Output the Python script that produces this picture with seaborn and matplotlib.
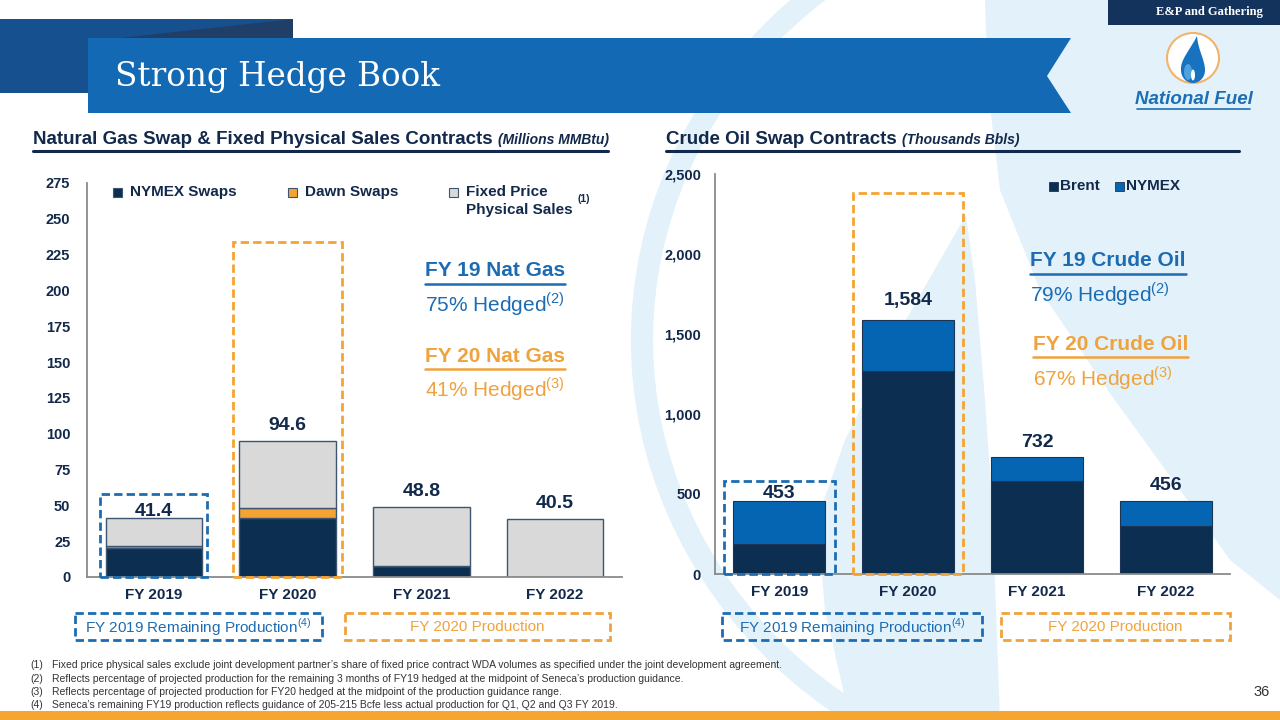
import matplotlib
matplotlib.use("Agg")
import matplotlib.pyplot as plt
import seaborn as sns
import numpy as np
from matplotlib.patches import Rectangle, Polygon, Ellipse, Arc, PathPatch
from matplotlib.path import Path
from matplotlib.ticker import FuncFormatter, FixedLocator

# ---------------- data ----------------
years = ["FY 2019", "FY 2020", "FY 2021", "FY 2022"]
gas_nymex = [20.0, 41.3, 7.5, 0.0]
gas_dawn = [1.5, 6.7, 0.0, 0.0]
gas_fixed = [19.9, 46.6, 41.3, 40.5]
gas_totals = [41.4, 94.6, 48.8, 40.5]
gas_ticks = [0, 25, 50, 75, 100, 125, 150, 175, 200, 225, 250, 275]

oil_brent = [185, 1265, 579, 300]
oil_nymex = [268, 319, 153, 156]
oil_totals = [453, 1584, 732, 456]
oil_ticks = [0, 500, 1000, 1500, 2000, 2500]

gas_legend = ["NYMEX Swaps", "Dawn Swaps", "Fixed Price\nPhysical Sales"]
oil_legend = ["Brent", "NYMEX"]
gas_notes = ["FY 19 Nat Gas", "75% Hedged", "(2)", "FY 20 Nat Gas", "41% Hedged", "(3)"]
oil_notes = ["FY 19 Crude Oil", "79% Hedged", "(2)", "FY 20 Crude Oil", "67% Hedged", "(3)"]
footnotes = [
    "Fixed price physical sales exclude joint development partner\u2019s share of fixed price contract WDA volumes as specified under the joint development agreement.",
    "Reflects percentage of projected production for the remaining 3 months of FY19 hedged at the midpoint of Seneca\u2019s production guidance.",
    "Reflects percentage of projected production for FY20 hedged at the midpoint of the production guidance range.",
    "Seneca\u2019s remaining FY19 production reflects guidance of 205-215 Bcfe less actual production for Q1, Q2 and Q3 FY 2019.",
]

# ---------------- style ----------------
NAVY = "#0c2e50"
TXT = "#13294b"
ORANGE = "#f5a332"
GRAY = "#d9d9d9"
OILBLUE = "#0565b2"
BLUE = "#1d6cb3"
OTXT = "#f0a23c"
EDGE = "#3d5570"
LB = "#e3f2fa"
AX = "#8a8a8a"

sns.set_theme(style="white")
plt.rcParams["font.family"] = ["Liberation Sans", "DejaVu Sans"]
plt.rcParams["mathtext.fontset"] = "custom"
plt.rcParams["mathtext.rm"] = "Liberation Sans"
plt.rcParams["mathtext.bf"] = "Liberation Sans:bold"

W, H = 1280, 720
fig = plt.figure(figsize=(12.8, 7.2), dpi=100)
fig.patch.set_facecolor("white")

bg = fig.add_axes([0, 0, 1, 1], zorder=0)
bg.set_xlim(0, W)
bg.set_ylim(H, 0)
bg.axis("off")

# background watermark swooshes
bg.add_patch(Arc((1122, 340), 960, 900, theta1=90, theta2=270, lw=16, color=LB, zorder=0))
bg.add_patch(Polygon([(985, 0), (1280, 0), (1280, 600), (1230, 560), (1191, 505), (1109, 392),
                      (1040, 290), (1000, 190), (988, 90)], closed=True, color=LB, lw=0, zorder=0))
bg.add_patch(Polygon([(966, 215), (900, 330), (845, 440), (817, 520), (825, 610), (850, 720),
                      (1000, 720), (992, 500), (985, 400), (975, 280)], closed=True, color=LB,
                     lw=0, zorder=0))

# header
bg.add_patch(Rectangle((0, 19), 293, 74, color="#17508f", lw=0, zorder=1))
bg.add_patch(Polygon([(120, 38), (293, 19), (293, 38)], closed=True, color="#1f3f68", lw=0, zorder=1))
bg.add_patch(Polygon([(88, 38), (1071, 38), (1047, 76), (1071, 113), (88, 113)], closed=True,
                     color="#1469b4", lw=0, zorder=2))
bg.text(115, 77, "Strong Hedge Book", color="white", fontsize=23.5, family="DejaVu Serif",
        va="center", ha="left", zorder=3)
bg.add_patch(Rectangle((1108, 0), 172, 25, color="#13335c", lw=0, zorder=2))
bg.text(1209, 12.5, "E&P and Gathering", color="white", fontsize=9, fontweight="bold",
        family="Liberation Serif", ha="center", va="center", zorder=3)

# logo
bg.add_patch(Ellipse((1193, 58), 52, 50, facecolor="white", edgecolor="#f2b36a", lw=1.5, zorder=3))
drop = Path([(1197, 36), (1190, 50), (1180, 60), (1181, 70), (1181, 78), (1187, 83), (1193, 83),
             (1200, 83), (1205, 77), (1205, 70), (1205, 60), (1198, 50), (1197, 36)],
            [Path.MOVETO] + [Path.CURVE4] * 12)
bg.add_patch(PathPatch(drop, facecolor="#1772c0", edgecolor="none", zorder=4))
bg.add_patch(Ellipse((1188, 72), 8, 16, facecolor="#4fa3dc", edgecolor="none", zorder=4))
bg.add_patch(Ellipse((1193, 75), 4, 11, facecolor="white", edgecolor="none", zorder=5))
bg.text(1194, 100, "National Fuel", color="#1a6fb5", fontsize=13.5, fontweight="bold",
        style="italic", ha="center", va="center", zorder=4)
bg.plot([1137, 1250], [108.5, 108.5], color="#1a6fb5", lw=1.2, zorder=4)

# section headers
r = fig.canvas.get_renderer()


def header(x, y, main, sub, x_end):
    t = bg.text(x, y, main, color=TXT, fontsize=13.5, fontweight="bold", va="center", ha="left", zorder=4)
    bb = t.get_window_extent(renderer=r)
    bg.text(bb.x1 + 5, y + 1, sub, color=TXT, fontsize=10, fontweight="bold", style="italic",
            va="center", ha="left", zorder=4)
    bg.plot([x, x_end], [151, 151], color=TXT, lw=2.2, zorder=4)


header(33, 139, "Natural Gas Swap & Fixed Physical Sales Contracts", "(Millions MMBtu)", 608)
header(666, 139, "Crude Oil Swap Contracts", "(Thousands Bbls)", 1239)


def style_axis(ax, ypad):
    ax.patch.set_alpha(0)
    for s in ["top", "right"]:
        ax.spines[s].set_visible(False)
    for s in ["left", "bottom"]:
        ax.spines[s].set_color(AX)
        ax.spines[s].set_linewidth(1.3)
    ax.set_xlim(-0.5, 3.5)
    ax.set_xlabel("")
    ax.set_ylabel("")
    ax.tick_params(axis="y", length=4, width=1, color=AX, pad=ypad, labelsize=10.5, labelcolor=TXT)
    ax.tick_params(axis="x", which="major", length=0, pad=8, labelsize=11, labelcolor=TXT)
    ax.xaxis.set_minor_locator(FixedLocator([-0.5, 0.5, 1.5, 2.5, 3.5]))
    ax.tick_params(axis="x", which="minor", length=5, width=1, color=AX, direction="out")
    for lab in ax.get_xticklabels() + ax.get_yticklabels():
        lab.set_fontweight("bold")


# ---------------- left chart ----------------
axL = fig.add_axes([87 / W, 1 - 577 / H, 535 / W, 394 / H], zorder=2)
bw = 0.72
sns.barplot(x=years, y=gas_nymex, color=NAVY, saturation=1, width=bw, errorbar=None,
            edgecolor=EDGE, linewidth=1, ax=axL)
sns.barplot(x=years, y=gas_dawn, bottom=gas_nymex, color=ORANGE, saturation=1, width=bw,
            errorbar=None, edgecolor=EDGE, linewidth=1, ax=axL)
sns.barplot(x=years, y=gas_fixed, bottom=np.add(gas_nymex, gas_dawn), color=GRAY, saturation=1,
            width=bw, errorbar=None, edgecolor=EDGE, linewidth=1, ax=axL)
axL.set_ylim(0, 275)
axL.set_yticks(gas_ticks)
style_axis(axL, 8)
gas_off = [4.5, 11.5, 11.5, 11.5]
for i, v in enumerate(gas_totals):
    axL.annotate(f"{v:.1f}", (i, v), xytext=(0, gas_off[i]), textcoords="offset points",
                 ha="center", va="center", fontsize=14, fontweight="bold", color=TXT)
axL.add_patch(Rectangle((-0.40, 0), 0.80, 58, fill=False, edgecolor=BLUE, lw=2,
                        ls=(0, (3, 1.5)), clip_on=False, zorder=5))
axL.add_patch(Rectangle((1 - 0.41, 0), 0.82, 234, fill=False, edgecolor=ORANGE, lw=2,
                        ls=(0, (3, 1.5)), clip_on=False, zorder=5))

# left legend
leg_x = [113, 288, 449]
leg_c = [NAVY, ORANGE, GRAY]
for x, c, lab in zip(leg_x, leg_c, gas_legend):
    bg.add_patch(Rectangle((x, 187.5), 9, 9, facecolor=c, edgecolor=EDGE, lw=0.8, zorder=4))
    for k, line in enumerate(lab.split("\n")):
        bg.text(x + 17, 192 + 18 * k, line, color=TXT, fontsize=11, fontweight="bold",
                va="center", ha="left", zorder=4)
bg.text(578, 199, "(1)", color=TXT, fontsize=7.5, fontweight="bold", va="center", ha="left", zorder=4)

# ---------------- right chart ----------------
axR = fig.add_axes([715 / W, 1 - 574 / H, 515 / W, 400.4 / H], zorder=2)
sns.barplot(x=years, y=oil_brent, color=NAVY, saturation=1, width=0.715, errorbar=None,
            edgecolor="#1d3554", linewidth=0.8, ax=axR)
sns.barplot(x=years, y=oil_nymex, bottom=oil_brent, color=OILBLUE, saturation=1, width=0.715,
            errorbar=None, edgecolor="#1d3554", linewidth=0.8, ax=axR)
axR.set_ylim(0, 2500)
axR.set_yticks(oil_ticks)
axR.yaxis.set_major_formatter(FuncFormatter(lambda v, p: f"{int(v):,}"))
style_axis(axR, 6)
oil_off = [6, 14.5, 10, 11]
for i, v in enumerate(oil_totals):
    axR.annotate(f"{v:,}", (i, v), xytext=(0, oil_off[i]), textcoords="offset points",
                 ha="center", va="center", fontsize=14, fontweight="bold", color=TXT)
axR.add_patch(Rectangle((-0.43, 0), 0.86, 583, fill=False, edgecolor=BLUE, lw=2,
                        ls=(0, (3, 1.5)), clip_on=False, zorder=5))
axR.add_patch(Rectangle((1 - 0.43, 0), 0.86, 2380, fill=False, edgecolor=ORANGE, lw=2,
                        ls=(0, (3, 1.5)), clip_on=False, zorder=5))

for x, c, lab in zip([1049, 1115], [NAVY, OILBLUE], oil_legend):
    bg.add_patch(Rectangle((x, 182), 9, 9, facecolor=c, edgecolor="#1d3554", lw=0.6, zorder=4))
    bg.text(x + 11, 186.5, lab, color=TXT, fontsize=11, fontweight="bold", va="center",
            ha="left", zorder=4)


# ---------------- hedge notes ----------------
def note(x, ys, texts, color):
    t = bg.text(x, ys[0], texts[0], color=color, fontsize=15, fontweight="bold", va="center",
                ha="left", zorder=4)
    bb = t.get_window_extent(renderer=r)
    bg.plot([x, x + bb.width], [ys[1], ys[1]], color=color, lw=1.8, zorder=4)
    bg.text(x, ys[2], texts[1] + r"$^{\mathrm{" + texts[2] + "}}$", color=color, fontsize=15,
            va="center", ha="left", zorder=4)


note(425, [271, 284, 304], gas_notes[:3], BLUE)
note(425, [357, 369, 389], gas_notes[3:], OTXT)
note(1030, [261, 273.5, 294], oil_notes[:3], BLUE)
note(1033, [344, 356.5, 378], oil_notes[3:], OTXT)


# ---------------- production boxes ----------------
def pbox(x0, x1, text, color):
    bg.add_patch(Rectangle((x0, 613), x1 - x0, 27, fill=False, edgecolor=color, lw=2,
                           ls=(0, (3, 1.5)), zorder=4))
    bg.text((x0 + x1) / 2, 627, text, color=color, fontsize=11, ha="center", va="center", zorder=4)


pbox(75, 322, r"FY 2019 Remaining Production$^{\mathrm{(4)}}$", BLUE)
pbox(345, 610, "FY 2020 Production", OTXT)
pbox(722, 982, r"FY 2019 Remaining Production$^{\mathrm{(4)}}$", BLUE)
pbox(1001, 1230, "FY 2020 Production", OTXT)

# ---------------- footnotes ----------------
for k, fn in enumerate(footnotes):
    y = 665 + 13.5 * k
    bg.text(30, y, f"({k + 1})", fontsize=7.5, color="#333333", va="center", ha="left", zorder=4)
    bg.text(52, y, fn, fontsize=7.5, color="#333333", va="center", ha="left", zorder=4)
bg.text(1262, 692, "36", fontsize=10.5, color="#333333", va="center", ha="center", zorder=4)
bg.add_patch(Rectangle((0, 711), W, 9, color="#f5a631", lw=0, zorder=4))

fig.savefig("out.png", dpi=100, facecolor="white")
